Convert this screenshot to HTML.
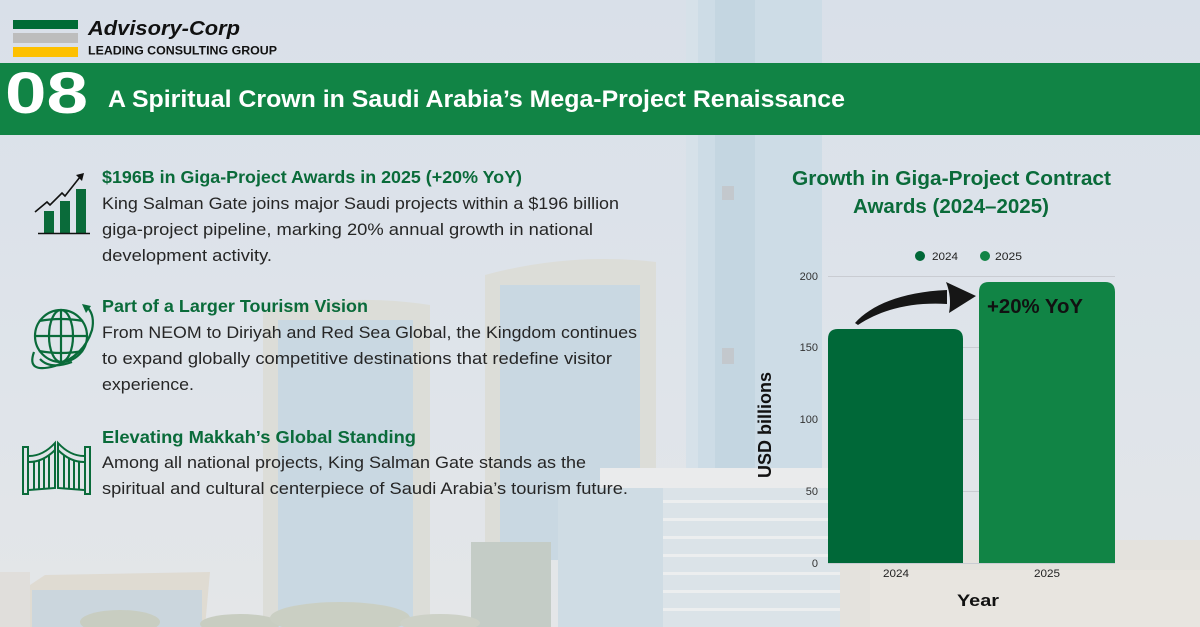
<!DOCTYPE html>
<html><head><meta charset="utf-8"><style>
html,body{margin:0;padding:0;width:1200px;height:627px;overflow:hidden;background:#dde3ea;}
svg{display:block;}
text{font-family:"Liberation Sans",sans-serif;}
</style></head><body>
<svg width="1200" height="627" viewBox="0 0 1200 627" xmlns="http://www.w3.org/2000/svg">
<defs>
<linearGradient id="bg" x1="0" y1="0" x2="0" y2="1">
<stop offset="0" stop-color="#d9e0e9"/><stop offset="0.6" stop-color="#dfe4ea"/><stop offset="1" stop-color="#e4e6e8"/>
</linearGradient>
</defs>
<rect width="1200" height="627" fill="url(#bg)"/>
<!-- background buildings (faded) -->
<g>
<!-- tall tower -->
<rect x="686" y="0" width="136" height="480" fill="#cddce6"/>
<rect x="715" y="0" width="40" height="480" fill="#c4d6e1"/>
<rect x="686" y="0" width="12" height="480" fill="#d6e1e9"/>
<rect x="722" y="186" width="12" height="14" fill="#c3c8cd"/>
<rect x="722" y="348" width="12" height="16" fill="#c3c8cd"/>
<!-- left damac tower -->
<path d="M263,312 Q345,292 430,305 L430,627 L263,627 Z" fill="#dcddd8"/>
<rect x="278" y="320" width="135" height="307" fill="#c9d8e2"/>
<!-- right damac tower -->
<path d="M485,275 Q570,252 656,262 L656,560 L485,560 Z" fill="#dcddd8"/>
<rect x="500" y="285" width="140" height="275" fill="#c9d8e2"/>
<!-- ibis building -->
<rect x="471" y="542" width="80" height="85" fill="#c4ccc6"/>
<!-- lower center building -->
<rect x="558" y="480" width="105" height="147" fill="#cfdce4"/>
<rect x="600" y="468" width="245" height="20" fill="#eaebec"/>
<rect x="663" y="488" width="180" height="139" fill="#dbe3e8"/>
<g fill="#eceeef">
<rect x="663" y="500" width="180" height="3"/><rect x="663" y="518" width="180" height="3"/><rect x="663" y="536" width="180" height="3"/><rect x="663" y="554" width="180" height="3"/><rect x="663" y="572" width="180" height="3"/><rect x="663" y="590" width="180" height="3"/><rect x="663" y="608" width="180" height="3"/>
</g>
<!-- bottom left building -->
<rect x="0" y="572" width="30" height="55" fill="#e0dedb"/>
<path d="M30,585 L45,575 L210,572 L205,627 L30,627 Z" fill="#dfdbd2"/>
<rect x="32" y="590" width="170" height="37" fill="#cbd6dd"/>
<!-- trees -->
<ellipse cx="120" cy="622" rx="40" ry="12" fill="#c8cdc1"/>
<ellipse cx="240" cy="624" rx="40" ry="10" fill="#c8cdc1"/>
<ellipse cx="340" cy="618" rx="70" ry="16" fill="#cacfc3"/>
<ellipse cx="440" cy="623" rx="40" ry="9" fill="#cdd1c7"/>
<!-- right bottom buildings -->
<path d="M840,545 L900,545 L905,530 L940,530 L945,540 L1200,540 L1200,627 L840,627 Z" fill="#e4e2dd"/>
<rect x="870" y="570" width="330" height="57" fill="#e8e5e0"/>
</g>

<!-- logo -->
<rect x="13" y="20" width="65" height="9" fill="#006b35"/>
<rect x="13" y="33" width="65" height="10" fill="#bdbdbd"/>
<rect x="13" y="47" width="65" height="10" fill="#fdc000"/>
<text x="88" y="35" font-size="20" font-weight="bold" font-style="italic" fill="#111" textLength="152" lengthAdjust="spacingAndGlyphs">Advisory-Corp</text>
<text x="88" y="54.5" font-size="12" font-weight="bold" fill="#111" textLength="189" lengthAdjust="spacingAndGlyphs">LEADING CONSULTING GROUP</text>

<!-- header bar -->
<rect x="0" y="63" width="1200" height="72" fill="#118445"/>
<text x="5" y="113" font-size="58" font-weight="bold" fill="#fff" textLength="83" lengthAdjust="spacingAndGlyphs">08</text>
<text x="108" y="107" font-size="24" font-weight="bold" fill="#fff" textLength="737" lengthAdjust="spacingAndGlyphs">A Spiritual Crown in Saudi Arabia’s Mega-Project Renaissance</text>

<!-- section 1 -->
<text x="102" y="183" font-size="17.5" font-weight="bold" fill="#0a6b3a" textLength="420" lengthAdjust="spacingAndGlyphs">$196B in Giga-Project Awards in 2025 (+20% YoY)</text>
<g font-size="16.5" fill="#262626">
<text x="102" y="209" textLength="517" lengthAdjust="spacingAndGlyphs">King Salman Gate joins major Saudi projects within a $196 billion</text>
<text x="102" y="235" textLength="491" lengthAdjust="spacingAndGlyphs">giga-project pipeline, marking 20% annual growth in national</text>
<text x="102" y="261" textLength="170" lengthAdjust="spacingAndGlyphs">development activity.</text>
</g>
<!-- section 2 -->
<text x="102" y="312" font-size="17.5" font-weight="bold" fill="#0a6b3a" textLength="266" lengthAdjust="spacingAndGlyphs">Part of a Larger Tourism Vision</text>
<g font-size="16.5" fill="#262626">
<text x="102" y="338" textLength="535" lengthAdjust="spacingAndGlyphs">From NEOM to Diriyah and Red Sea Global, the Kingdom continues</text>
<text x="102" y="364" textLength="510" lengthAdjust="spacingAndGlyphs">to expand globally competitive destinations that redefine visitor</text>
<text x="102" y="390" textLength="92" lengthAdjust="spacingAndGlyphs">experience.</text>
</g>
<!-- section 3 -->
<text x="102" y="443" font-size="17.5" font-weight="bold" fill="#0a6b3a" textLength="314" lengthAdjust="spacingAndGlyphs">Elevating Makkah’s Global Standing</text>
<g font-size="16.5" fill="#262626">
<text x="102" y="468" textLength="484" lengthAdjust="spacingAndGlyphs">Among all national projects, King Salman Gate stands as the</text>
<text x="102" y="494" textLength="526" lengthAdjust="spacingAndGlyphs">spiritual and cultural centerpiece of Saudi Arabia’s tourism future.</text>
</g>

<!-- icon 1: chart -->
<g>
<rect x="44" y="211" width="10" height="22" fill="#0a6b3a"/>
<rect x="60" y="201" width="10" height="32" fill="#0a6b3a"/>
<rect x="76" y="189" width="10" height="44" fill="#0a6b3a"/>
<line x1="38" y1="233.5" x2="90" y2="233.5" stroke="#111" stroke-width="1.6"/>
<polyline points="35,212 47,202 50,205 62,193 65,196 80,177" fill="none" stroke="#111" stroke-width="1.6"/>
<polygon points="84,173 76,175 82,181" fill="#111"/>
</g>
<!-- icon 2: globe -->
<g fill="none" stroke="#0a6b3a" stroke-width="2.2">
<circle cx="61" cy="336" r="26"/>
<ellipse cx="61" cy="336" rx="12" ry="26"/>
<line x1="61" y1="310" x2="61" y2="362"/>
<line x1="35" y1="336" x2="87" y2="336"/>
<path d="M39,321 Q61,317 83,321"/>
<path d="M39,351 Q61,355 83,351"/>
<path d="M34,352 Q26,374 55,366 Q84,356 92,330 Q95,316 88,308"/>
<path d="M40,359 Q50,370 72,362"/>
</g>
<polygon points="91,306 82,304 86,313" fill="#0a6b3a"/>
<!-- icon 3: gate -->
<g fill="none" stroke="#0a6b3a" stroke-width="2">
<rect x="23" y="447" width="5" height="47"/>
<rect x="85" y="447" width="5" height="47"/>
<path d="M29,456 Q43,456 55,443 L55,488 L29,490"/>
<path d="M29,462 Q43,462 55,450"/>
<line x1="34" y1="461" x2="34" y2="490"/>
<line x1="39" y1="460" x2="39" y2="489"/>
<line x1="44" y1="458" x2="44" y2="489"/>
<line x1="49" y1="455" x2="49" y2="488"/>
<path d="M84,456 Q70,456 58,443 L58,488 L84,490"/>
<path d="M84,462 Q70,462 58,450"/>
<line x1="79" y1="461" x2="79" y2="490"/>
<line x1="74" y1="460" x2="74" y2="489"/>
<line x1="69" y1="458" x2="69" y2="489"/>
<line x1="64" y1="455" x2="64" y2="488"/>
</g>

<!-- chart title -->
<text x="951.5" y="185" font-size="20" font-weight="bold" fill="#0a6b3a" text-anchor="middle" textLength="319" lengthAdjust="spacingAndGlyphs">Growth in Giga-Project Contract</text>
<text x="951" y="213" font-size="20" font-weight="bold" fill="#0a6b3a" text-anchor="middle" textLength="196" lengthAdjust="spacingAndGlyphs">Awards (2024–2025)</text>

<!-- legend -->
<circle cx="920" cy="256" r="5" fill="#006838"/>
<text x="932" y="260" font-size="11" fill="#222" textLength="26" lengthAdjust="spacingAndGlyphs">2024</text>
<circle cx="985" cy="256" r="5" fill="#118445"/>
<text x="995" y="260" font-size="11" fill="#222" textLength="27" lengthAdjust="spacingAndGlyphs">2025</text>

<!-- gridlines -->
<g stroke="#c9ccd2" stroke-width="1">
<line x1="828" y1="276.5" x2="1115" y2="276.5"/>
<line x1="828" y1="347.5" x2="1115" y2="347.5"/>
<line x1="828" y1="419.5" x2="1115" y2="419.5"/>
<line x1="828" y1="491.5" x2="1115" y2="491.5"/>
<line x1="828" y1="563.5" x2="1115" y2="563.5"/>
</g>
<!-- y labels -->
<g font-size="11" fill="#333" text-anchor="end">
<text x="818" y="280">200</text>
<text x="818" y="351">150</text>
<text x="818" y="423">100</text>
<text x="818" y="495">50</text>
<text x="818" y="567">0</text>
</g>
<!-- bars -->
<path d="M828,563 L828,339 Q828,329 838,329 L953,329 Q963,329 963,339 L963,563 Z" fill="#006838"/>
<path d="M979,563 L979,292 Q979,282 989,282 L1105,282 Q1115,282 1115,292 L1115,563 Z" fill="#118445"/>
<!-- x labels -->
<text x="896" y="577" font-size="11" fill="#222" text-anchor="middle" textLength="26" lengthAdjust="spacingAndGlyphs">2024</text>
<text x="1047" y="577" font-size="11" fill="#222" text-anchor="middle" textLength="26" lengthAdjust="spacingAndGlyphs">2025</text>
<!-- axis titles -->
<text x="978" y="606" font-size="17" font-weight="bold" fill="#111" text-anchor="middle" textLength="42" lengthAdjust="spacingAndGlyphs">Year</text>
<text transform="translate(771,425) rotate(-90)" x="0" y="0" font-size="18" font-weight="bold" fill="#111" text-anchor="middle" textLength="106" lengthAdjust="spacingAndGlyphs">USD billions</text>

<!-- annotation -->
<text x="987" y="313" font-size="20" font-weight="bold" fill="#111" textLength="96" lengthAdjust="spacingAndGlyphs">+20% YoY</text>
<path d="M855,323 C870,306 900,292 947,290 L947,304 C912,302 882,309 858,325 Z" fill="#161616"/>
<path d="M946,282 L976,296 L949,313 Q952,297 946,282 Z" fill="#161616"/>
</svg>
</body></html>
